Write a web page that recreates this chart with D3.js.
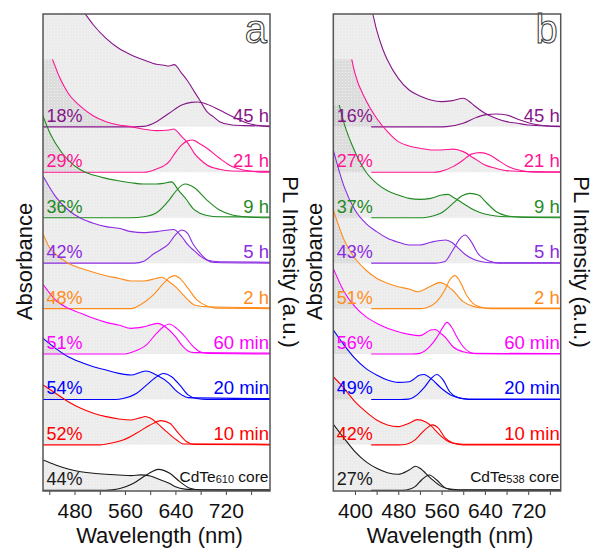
<!DOCTYPE html>
<html>
<head>
<meta charset="utf-8">
<script src="https://cdn.jsdelivr.net/npm/d3@7"></script>
<style>
  body { margin: 0; background: #fff; }
  svg { display: block; }
  text { font-family: "Liberation Sans", Arial, sans-serif; }
</style>
</head>
<body>
<div id="chart"></div>
<script>
/* Stacked absorbance + PL spectra, two panels */

// rows, bottom to top
const samples = ["core", "10 min", "20 min", "60 min", "2 h", "5 h", "9 h", "21 h", "45 h"];
const colors = ["#1a1a1a", "#ff0000", "#0000ff", "#ff00ff", "#ff8c1a", "#8b2be2", "#1f8a1f", "#ff1493", "#86168a"];
const qyA = ["44%", "52%", "54%", "51%", "48%", "42%", "36%", "29%", "18%"];
const qyB = ["27%", "42%", "49%", "56%", "51%", "43%", "37%", "27%", "16%"];
const tickLabels = [400, 480, 560, 640, 720];

// [wavelength nm, height in row units above the row baseline]
const absA = [
  [[430,0.667],[450,0.557],[470,0.469],[490,0.41],[510,0.374],[530,0.352],[550,0.337],[570,0.323],[585,0.34],[600,0.315],[610,0.264],[630,0.154],[640,0.08],[655,0.025],[670,0.012],[790,0.01]],
  [[430,1.318],[450,1.135],[470,0.951],[490,0.805],[510,0.695],[530,0.621],[550,0.57],[570,0.548],[585,0.6],[592,0.625],[600,0.59],[610,0.49],[626,0.29],[642,0.107],[653,0.02],[790,0.015]],
  [[430,1.345],[450,1.125],[470,0.94],[490,0.817],[510,0.72],[530,0.647],[550,0.574],[570,0.537],[585,0.6],[593,0.625],[610,0.537],[630,0.354],[640,0.206],[650,0.1],[660,0.04],[790,0.02]],
  [[430,1.534],[450,1.189],[470,1.005],[490,0.895],[510,0.785],[530,0.697],[550,0.638],[570,0.565],[590,0.6],[612,0.675],[630,0.528],[640,0.381],[650,0.198],[660,0.066],[670,0.03],[790,0.02]],
  [[430,1.65],[440,1.35],[450,1.2],[470,1.0],[490,0.887],[510,0.799],[530,0.724],[550,0.667],[570,0.608],[590,0.608],[610,0.667],[618,0.69],[630,0.592],[640,0.482],[650,0.337],[660,0.19],[670,0.08],[690,0.04],[790,0.02]],
  [[430,1.92],[450,1.464],[470,1.171],[490,0.988],[510,0.878],[530,0.804],[550,0.768],[570,0.694],[590,0.672],[610,0.694],[630,0.731],[637,0.74],[650,0.584],[660,0.4],[670,0.27],[680,0.15],[690,0.07],[710,0.03],[790,0.02]],
  [[430,2.238],[440,1.893],[450,1.636],[470,1.269],[490,1.049],[510,0.939],[530,0.866],[550,0.814],[570,0.77],[590,0.741],[610,0.741],[620,0.756],[634,0.79],[645,0.6],[658,0.39],[668,0.2],[679,0.1],[690,0.05],[710,0.022],[790,0.015]],
  [[445,2.487],[457,2.069],[470,1.739],[490,1.445],[510,1.24],[530,1.115],[550,1.042],[570,1.005],[590,0.946],[610,0.917],[630,0.932],[637,0.954],[650,0.785],[660,0.638],[670,0.418],[680,0.271],[690,0.161],[710,0.066],[730,0.03],[790,0.02]],
  [[430,4.0],[460,3.3],[480,2.83],[497,2.485],[510,2.243],[530,1.949],[550,1.729],[570,1.582],[590,1.472],[610,1.377],[620,1.362],[630,1.34],[638,1.37],[650,1.179],[660,1.0],[670,0.776],[680,0.555],[690,0.335],[700,0.225],[710,0.115],[730,0.04],[750,0.027],[790,0.02]]
];

const plA = [
  [[430,0],[530,0],[540,0.01],[552,0.04],[573,0.15],[594,0.337],[613,0.461],[631,0.374],[647,0.19],[663,0.044],[680,0.005],[790,0]],
  [[430,0],[520,0],[531,0.02],[557,0.107],[578,0.254],[600,0.437],[617,0.533],[631,0.474],[645,0.254],[658,0.07],[670,0.01],[790,0]],
  [[430,0],[545,0],[557,0.02],[578,0.13],[594,0.315],[608,0.477],[621,0.572],[634,0.5],[647,0.315],[660,0.1],[674,0.02],[690,0],[790,0]],
  [[430,0],[560,0],[573,0.05],[594,0.2],[610,0.455],[621,0.6],[630,0.66],[642,0.565],[653,0.418],[666,0.198],[679,0.05],[692,0.01],[790,0]],
  [[430,0],[570,0],[584,0.08],[605,0.3],[621,0.556],[631,0.688],[639,0.725],[647,0.666],[660,0.446],[674,0.19],[690,0.057],[705,0.01],[790,0]],
  [[430,0],[575,0],[590,0.04],[605,0.2],[617,0.3],[629,0.42],[640,0.62],[650,0.731],[659,0.66],[668,0.42],[679,0.22],[690,0.07],[702,0.015],[790,0]],
  [[430,0],[570,0],[590,0.022],[610,0.11],[630,0.389],[640,0.572],[650,0.712],[656,0.741],[670,0.66],[690,0.389],[710,0.169],[730,0.059],[750,0.022],[770,0.005],[790,0]],
  [[430,0],[590,0],[610,0.073],[630,0.235],[640,0.433],[650,0.602],[660,0.697],[667,0.712],[680,0.616],[690,0.528],[710,0.308],[730,0.125],[750,0.044],[770,0.01],[790,0]],
  [[430,0],[575,0],[590,0.01],[610,0.115],[630,0.3],[650,0.482],[665,0.54],[675,0.548],[690,0.5],[710,0.37],[731,0.225],[752,0.093],[773,0.027],[790,0.005]]
];

const absB = [
  [[360,1.453],[380,1.145],[400,0.85],[420,0.63],[440,0.484],[460,0.388],[480,0.352],[500,0.447],[512,0.528],[520,0.484],[540,0.264],[560,0.081],[580,0.022],[600,0.01],[780,0.01]],
  [[360,1.5],[380,1.245],[400,0.951],[420,0.731],[440,0.548],[460,0.438],[480,0.401],[500,0.477],[515,0.555],[530,0.51],[540,0.43],[550,0.3],[560,0.18],[570,0.09],[580,0.04],[600,0.015],[780,0.01]],
  [[360,1.528],[380,1.197],[400,0.904],[420,0.684],[440,0.537],[460,0.427],[480,0.376],[500,0.39],[520,0.537],[528,0.55],[540,0.463],[560,0.242],[580,0.08],[600,0.022],[620,0.01],[780,0.01]],
  [[360,1.886],[380,1.372],[400,1.042],[420,0.822],[440,0.675],[460,0.565],[480,0.491],[500,0.433],[520,0.404],[540,0.528],[548,0.54],[560,0.44],[566,0.38],[581,0.16],[600,0.05],[620,0.015],[780,0.01]],
  [[360,2.17],[380,1.51],[400,1.107],[420,0.85],[440,0.667],[460,0.557],[480,0.482],[500,0.431],[516,0.372],[538,0.482],[557,0.578],[580,0.409],[600,0.152],[620,0.043],[640,0.013],[780,0.01]],
  [[360,2.49],[380,1.684],[400,1.171],[420,0.878],[440,0.694],[460,0.548],[480,0.46],[500,0.4],[520,0.4],[540,0.46],[568,0.51],[580,0.45],[592,0.32],[605,0.18],[620,0.08],[635,0.03],[650,0.01],[780,0.01]],
  [[371,2.48],[380,2.076],[400,1.453],[420,1.012],[440,0.756],[460,0.594],[480,0.499],[500,0.426],[520,0.404],[540,0.426],[560,0.499],[572,0.514],[580,0.462],[600,0.315],[620,0.169],[640,0.08],[660,0.037],[680,0.022],[780,0.015]],
  [[394,2.487],[400,2.179],[420,1.592],[440,1.189],[460,0.895],[480,0.675],[500,0.58],[520,0.528],[540,0.492],[560,0.492],[582,0.51],[600,0.455],[620,0.308],[640,0.161],[660,0.088],[680,0.037],[720,0.015],[780,0.01]],
  [[360,5.0],[400,4.0],[420,3.1],[433,2.485],[440,2.133],[452,1.693],[460,1.472],[480,1.069],[500,0.812],[520,0.68],[540,0.592],[560,0.555],[580,0.577],[600,0.629],[610,0.57],[620,0.47],[640,0.3],[660,0.19],[680,0.115],[700,0.079],[720,0.042],[760,0.02],[780,0.015]]
];

const plB = [
  [[430,0],[480,0],[495,0.007],[511,0.08],[523,0.227],[537,0.338],[551,0.227],[566,0.059],[582,0.007],[600,0],[780,0]],
  [[430,0],[480,0],[495,0.015],[511,0.11],[523,0.257],[534,0.38],[543,0.44],[554,0.367],[566,0.16],[582,0.037],[600,0],[780,0]],
  [[430,0],[485,0],[499,0.007],[514,0.095],[529,0.279],[542,0.477],[551,0.55],[563,0.426],[575,0.169],[591,0.037],[610,0],[780,0]],
  [[430,0],[505,0],[520,0.015],[538,0.161],[551,0.36],[562,0.58],[570,0.697],[578,0.6],[588,0.38],[600,0.16],[612,0.04],[625,0.005],[780,0]],
  [[430,0],[520,0],[532,0.02],[551,0.153],[566,0.41],[575,0.63],[585,0.725],[594,0.593],[606,0.3],[618,0.116],[634,0.028],[650,0],[780,0]],
  [[430,0],[550,0],[557,0.01],[566,0.034],[581,0.29],[594,0.54],[603,0.62],[615,0.47],[628,0.2],[637,0.11],[649,0.04],[665,0],[780,0]],
  [[430,0],[525,0],[538,0.022],[563,0.132],[581,0.315],[597,0.477],[612,0.536],[628,0.5],[643,0.33],[661,0.132],[680,0.044],[705,0.01],[780,0]],
  [[430,0],[545,0],[557,0.015],[581,0.125],[600,0.271],[615,0.4],[631,0.433],[649,0.38],[668,0.235],[686,0.11],[711,0.03],[740,0],[780,0]],
  [[430,0],[555,0],[569,0.005],[600,0.079],[625,0.21],[643,0.27],[661,0.284],[680,0.262],[705,0.152],[729,0.064],[754,0.02],[780,0.005]]
];

const panels = [
  { id: "a", left: 43, right: 270, domain: [430, 790], tick0: 440, abs: absA, pl: plA, qy: qyA, core: "610", absX: 31.5, plX: 283 },
  { id: "b", left: 333.3, right: 560.7, domain: [360, 780], tick0: 400, abs: absB, pl: plB, qy: qyB, core: "538", absX: 321.7, plX: 573.5 }
];

const plotTop = 14, plotBottom = 491;

const svg = d3.select("#chart")
  .append("svg")
  .attr("width", 592)
  .attr("height", 549);

const defs = svg.append("defs");
const pat = defs.append("pattern")
  .attr("id", "dots")
  .attr("patternUnits", "userSpaceOnUse")
  .attr("width", 3)
  .attr("height", 3);
pat.append("rect").attr("width", 3).attr("height", 3).attr("fill", "#8c8c8c").attr("fill-opacity", 0.17);
pat.append("rect").attr("width", 1).attr("height", 1).attr("fill", "#fff").attr("fill-opacity", 0.45);

const y = d3.scaleLinear().domain([0, 10.5]).range([490.3, 13.3]);

panels.forEach(p => {
  const x = d3.scaleLinear().domain(p.domain).range([p.left, p.right]);

  defs.append("clipPath").attr("id", "clip-" + p.id)
    .append("rect")
    .attr("x", p.left).attr("y", plotTop)
    .attr("width", p.right - p.left).attr("height", plotBottom - plotTop);

  const g = svg.append("g").attr("clip-path", `url(#clip-${p.id})`);

  // Shaded area under each absorbance curve
  p.abs.forEach((s, i) => {
    const pts = s[0][0] > p.domain[0] ? [[p.domain[0], s[0][1]], ...s] : s;
    const area = d3.area()
      .x(d => x(d[0]))
      .y0(y(i))
      .y1(d => y(i + d[1]))
      .curve(d3.curveMonotoneX);
    g.append("path").datum(pts).attr("d", area).attr("fill", "url(#dots)");
  });

  const line = i => d3.line()
    .x(d => x(d[0]))
    .y(d => y(i + d[1]))
    .curve(d3.curveMonotoneX);

  // PL and absorbance lines
  p.pl.forEach((s, i) => {
    g.append("path").datum(s).attr("d", line(i))
      .attr("fill", "none").attr("stroke", colors[i]).attr("stroke-width", 1.1);
  });
  p.abs.forEach((s, i) => {
    g.append("path").datum(s).attr("d", line(i))
      .attr("fill", "none").attr("stroke", colors[i]).attr("stroke-width", 1.1);
  });

  // Row labels
  samples.forEach((name, i) => {
    svg.append("text")
      .attr("x", p.left + 3.5)
      .attr("y", y(i) - 5)
      .attr("font-size", 18)
      .attr("fill", colors[i])
      .text(p.qy[i]);

    if (i === 0) {
      const t = svg.append("text")
        .attr("x", p.right - 1.5)
        .attr("y", 481.5)
        .attr("text-anchor", "end")
        .attr("font-size", 15.5)
        .attr("fill", "#111");
      t.append("tspan").text("CdTe");
      t.append("tspan").attr("font-size", 11).attr("dy", 1).text(p.core);
      t.append("tspan").attr("dy", -1).text(" core");
    } else {
      svg.append("text")
        .attr("x", p.right - 1)
        .attr("y", y(i) - 5)
        .attr("text-anchor", "end")
        .attr("font-size", 18.5)
        .attr("fill", colors[i])
        .text(name);
    }
  });

  // Panel letter
  svg.append("text")
    .attr("x", p.right - 3)
    .attr("y", 43)
    .attr("text-anchor", "end")
    .attr("font-size", 40)
    .attr("fill", "#fff")
    .attr("stroke", "#333")
    .attr("stroke-width", 1)
    .text(p.id);

  // X axis
  svg.append("g")
    .attr("transform", `translate(0, ${plotBottom})`)
    .call(d3.axisBottom(x)
      .tickValues(d3.range(p.tick0, p.domain[1], 40))
      .tickSize(4)
      .tickFormat(d => tickLabels.includes(d) ? d : ""))
    .call(g => g.select(".domain").remove())
    .call(g => g.selectAll("line").attr("stroke", "#444"))
    .call(g => g.selectAll("text")
      .attr("y", 12)
      .attr("font-size", 21)
      .attr("font-family", "Liberation Sans, Arial, sans-serif")
      .attr("fill", "#111"));

  // Frame
  svg.append("rect")
    .attr("x", p.left).attr("y", plotTop)
    .attr("width", p.right - p.left).attr("height", plotBottom - plotTop)
    .attr("fill", "none")
    .attr("stroke", "#555")
    .attr("stroke-width", 1.5);

  // Axis titles
  svg.append("text")
    .attr("x", (p.left + p.right) / 2 + 3)
    .attr("y", 542.5)
    .attr("text-anchor", "middle")
    .attr("font-size", 22)
    .attr("fill", "#111")
    .text("Wavelength (nm)");

  svg.append("text")
    .attr("transform", `translate(${p.absX}, 261.5) rotate(-90)`)
    .attr("text-anchor", "middle")
    .attr("font-size", 22)
    .attr("fill", "#111")
    .text("Absorbance");

  svg.append("text")
    .attr("transform", `translate(${p.plX}, 262) rotate(90)`)
    .attr("text-anchor", "middle")
    .attr("font-size", 22)
    .attr("fill", "#111")
    .text("PL Intensity (a.u.)");
});
</script>
</body>
</html>
